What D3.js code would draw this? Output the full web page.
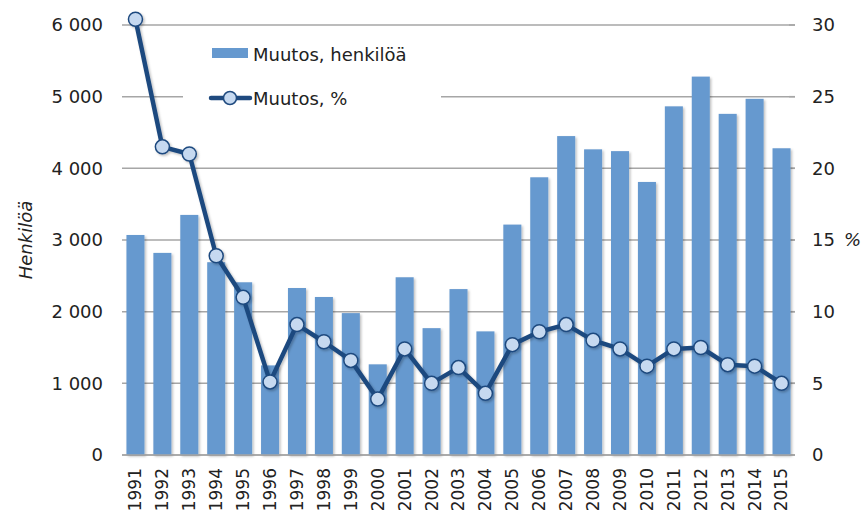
<!DOCTYPE html>
<html><head><meta charset="utf-8">
<script src="https://cdn.jsdelivr.net/npm/d3@7"></script>
<style>body{margin:0;background:#fff}svg{display:block;font-family:"DejaVu Sans",Verdana,sans-serif}</style>
</head><body><svg id="c" width="865" height="516"></svg>
<script>
const years = ["1991","1992","1993","1994","1995","1996","1997","1998","1999","2000","2001","2002","2003","2004","2005","2006","2007","2008","2009","2010","2011","2012","2013","2014","2015"];
const changePersons = [3070,2820,3350,2690,2410,1250,2330,2205,1980,1265,2480,1770,2315,1725,3215,3875,4450,4265,4240,3810,4865,5280,4760,4970,4280];
const changePct = [30.4,21.5,21.0,13.9,11.0,5.1,9.1,7.9,6.6,3.9,7.4,5.0,6.1,4.3,7.7,8.6,9.1,8.0,7.4,6.2,7.4,7.5,6.3,6.2,5.0];
const leftTicks = [0,1000,2000,3000,4000,5000,6000];
const rightTicks = [0,5,10,15,20,25,30];
const legendLabels = ["Muutos, henkilöä","Muutos, %"];

const svg = d3.select("#c");
const L=122,R=795,T=25,B=455;
const x = d3.scaleBand().domain(years).range([L,R]).paddingInner(0.33).paddingOuter(0.165);
const yL = d3.scaleLinear().domain([0,6000]).range([B,T]);
const yR = d3.scaleLinear().domain([0,30]).range([B,T]);
const fmt = d => d3.format(",")(d).replace(/,/g," ");

const defs = svg.append("defs");
const f = defs.append("filter").attr("id","sh").attr("x","-20%").attr("y","-20%").attr("width","150%").attr("height","150%");
f.append("feDropShadow").attr("dx",1.5).attr("dy",1.5).attr("stdDeviation",1.2).attr("flood-color","#000").attr("flood-opacity",0.25);

// gridlines
svg.append("g").selectAll("line").data(leftTicks).join("line")
  .attr("x1",L).attr("x2",R).attr("y1",d=>yL(d)).attr("y2",d=>yL(d))
  .attr("stroke","#a6a6a6").attr("stroke-width",1.5);

// right axis ticks (inward)
svg.append("g").attr("transform",`translate(${R},0)`)
  .call(d3.axisRight(yR).tickValues(rightTicks).tickSize(0).tickPadding(17))
  .call(g=>g.select(".domain").remove())
  .call(g=>g.selectAll("text").attr("font-size",18).attr("fill","#222").attr("font-family","DejaVu Sans"));
svg.append("g").selectAll("line").data(rightTicks).join("line")
  .attr("x1",R-6).attr("x2",R).attr("y1",d=>yR(d)).attr("y2",d=>yR(d))
  .attr("stroke","#a6a6a6").attr("stroke-width",1.5);

// left axis
svg.append("g").attr("transform",`translate(${L},0)`)
  .call(d3.axisLeft(yL).tickValues(leftTicks).tickFormat(fmt).tickSize(0).tickPadding(19))
  .call(g=>g.select(".domain").remove())
  .call(g=>g.selectAll("text").attr("font-size",18).attr("fill","#222").attr("font-family","DejaVu Sans"));

// legend background box (breaks gridlines)
svg.append("rect").attr("x",183).attr("y",32).attr("width",258).attr("height",84).attr("fill","#fff");

// bars
svg.append("g").selectAll("rect").data(years).join("rect")
  .attr("x",d=>x(d)).attr("width",x.bandwidth())
  .attr("y",(d,i)=>yL(changePersons[i])).attr("height",(d,i)=>B-yL(changePersons[i]))
  .attr("fill","#6699cf").attr("filter","url(#sh)");

// bottom axis
svg.append("g").attr("transform",`translate(0,${B})`)
  .call(d3.axisBottom(x).tickSize(0).tickPadding(0))
  .call(g=>g.select(".domain").attr("stroke","#a6a6a6").attr("stroke-width",1.5).attr("d",`M${L},0H${R}`))
  .call(g=>g.selectAll("text").attr("font-size",17).attr("fill","#222").attr("font-family","DejaVu Sans")
     .attr("transform","rotate(-90)").attr("text-anchor","end").attr("x",-13).attr("y",0).attr("dy","0.35em"));

// line
const lineG = svg.append("g").attr("filter","url(#sh)");
lineG.append("path").datum(changePct)
  .attr("d",d3.line().x((d,i)=>x(years[i])+x.bandwidth()/2).y(d=>yR(d)))
  .attr("fill","none").attr("stroke","#1f4a7f").attr("stroke-width",4.5).attr("stroke-linejoin","round");
lineG.selectAll("circle").data(changePct).join("circle")
  .attr("cx",(d,i)=>x(years[i])+x.bandwidth()/2).attr("cy",d=>yR(d)).attr("r",7)
  .attr("fill","#c6d9f0").attr("stroke","#1f4a7f").attr("stroke-width",1.5);

// legend
svg.append("rect").attr("x",212).attr("y",48).attr("width",36).attr("height",10).attr("fill","#6699cf");
svg.append("text").attr("x",253).attr("y",61).attr("font-size",18).attr("fill","#222").text(legendLabels[0]);
svg.append("line").attr("x1",211).attr("x2",250).attr("y1",98).attr("y2",98).attr("stroke","#1f4a7f").attr("stroke-width",4.5).attr("stroke-linecap","round");
svg.append("circle").attr("cx",230).attr("cy",98).attr("r",6.5).attr("fill","#c6d9f0").attr("stroke","#1f4a7f").attr("stroke-width",1.5);
svg.append("text").attr("x",253).attr("y",105).attr("font-size",18).attr("fill","#222").text(legendLabels[1]);

// axis titles
svg.append("text").attr("transform","translate(32,240) rotate(-90)").attr("text-anchor","middle")
  .attr("font-size",18).attr("font-style","italic").attr("fill","#222").text("Henkilöä");
svg.append("text").attr("x",844).attr("y",246).attr("font-size",18).attr("font-style","italic").attr("fill","#222").text("%");
</script></body></html>
